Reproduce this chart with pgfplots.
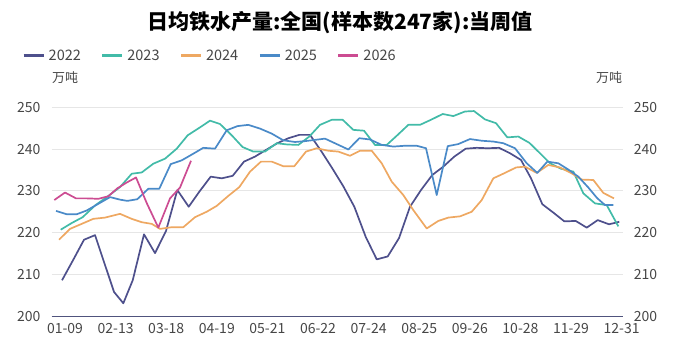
\documentclass[border=0pt]{standalone}
\usepackage{fontspec}
\setmainfont{Noto Sans CJK SC}
\usepackage{pgfplots}
\usepackage{pgfplotstable}
\pgfplotsset{compat=1.18}
\definecolor{c22}{RGB}{78,80,140}
\definecolor{c23}{RGB}{66,187,168}
\definecolor{c24}{RGB}{238,168,98}
\definecolor{c25}{RGB}{74,138,200}
\definecolor{c26}{RGB}{204,76,146}
\definecolor{tickc}{RGB}{70,70,70}
\definecolor{gridc}{RGB}{230,230,230}
\definecolor{axisc}{RGB}{80,84,125}

\pgfplotstableread{
x y
0.00 208.6
2.17 213.4
4.33 218.3
6.50 219.4
8.37 212.6
10.24 205.8
12.07 203.1
13.92 208.6
16.14 219.6
18.31 215.1
20.47 220.4
22.70 230.2
24.94 226.2
27.03 229.8
29.27 233.4
31.44 233.0
33.60 233.6
35.83 237.0
37.99 238.2
40.16 239.8
42.38 241.4
44.55 242.6
46.71 243.4
48.82 243.4
50.98 239.6
53.15 235.5
55.37 231.1
57.54 226.2
59.78 219.0
61.95 213.6
64.11 214.3
66.34 218.7
68.50 226.2
70.67 230.2
72.89 233.8
75.06 235.8
77.22 238.2
79.47 240.1
81.63 240.3
83.80 240.2
86.02 240.3
88.19 239.0
90.35 237.4
92.32 233.0
94.55 226.8
96.71 224.8
98.88 222.7
101.12 222.8
103.29 221.2
105.45 223.0
107.68 222.0
109.70 222.6
}\tabA

\pgfplotstableread{
x y
-0.26 220.7
1.91 222.3
4.07 223.7
6.50 226.5
8.80 228.5
11.42 230.9
13.72 234.1
15.69 234.4
17.97 236.5
20.28 237.7
22.58 240.1
24.74 243.3
27.17 245.2
29.13 246.8
31.10 246.0
33.41 243.3
35.53 240.5
37.66 239.4
39.96 239.4
42.26 241.4
44.35 241.1
46.52 241.0
48.68 243.0
50.79 245.8
53.09 247.0
55.26 247.0
57.34 244.6
59.45 244.4
61.61 241.0
63.92 241.0
66.08 243.4
68.17 245.8
70.47 245.8
72.78 247.1
74.94 248.4
77.03 247.9
79.33 249.0
81.10 249.1
83.27 247.1
85.43 246.2
87.66 242.8
89.82 243.0
91.99 241.5
94.09 239.0
96.06 236.6
98.23 235.3
100.65 234.6
102.62 229.4
104.92 227.0
107.22 226.6
109.51 221.5
}\tabB

\pgfplotstableread{
x y
-0.59 218.3
1.57 220.9
3.88 222.1
6.16 223.3
8.46 223.6
11.42 224.5
13.72 223.3
15.69 222.5
17.66 222.1
19.29 220.9
21.59 221.3
23.88 221.3
26.18 223.7
28.48 225.0
30.45 226.4
32.74 228.8
34.90 230.9
37.01 234.6
39.17 237.0
41.28 237.0
43.56 235.9
45.73 235.9
48.03 239.4
50.14 240.2
52.42 239.6
54.39 239.4
56.69 238.4
58.66 239.6
60.97 239.6
62.93 236.6
64.90 232.2
67.18 229.0
69.15 225.4
71.79 221.0
74.07 222.8
76.04 223.6
78.35 223.9
80.65 225.0
82.62 227.8
84.90 233.0
87.20 234.3
89.37 235.6
91.14 235.8
93.44 234.3
95.73 236.2
98.03 235.6
100.33 234.2
102.30 232.7
104.59 232.6
106.56 229.5
108.66 228.2
}\tabC

\pgfplotstableread{
x y
-1.18 225.2
0.93 224.4
2.89 224.4
4.86 225.3
7.15 226.9
9.45 228.5
11.42 227.9
12.85 227.6
14.82 228.0
16.99 230.5
19.15 230.5
21.40 236.4
23.56 237.3
25.85 238.9
27.81 240.3
30.12 240.1
32.42 244.5
34.55 245.5
36.67 245.8
38.98 244.9
41.28 243.7
43.56 242.1
45.87 241.7
47.83 241.9
49.80 242.2
51.77 242.5
54.07 241.2
56.36 239.9
58.52 242.6
60.63 242.3
62.93 241.0
65.22 240.6
67.52 240.8
69.82 240.8
71.65 240.2
73.76 229.0
75.93 240.7
78.01 241.2
80.31 242.4
82.62 242.0
84.90 241.8
86.87 241.4
89.17 240.2
91.48 236.6
93.56 234.3
95.53 237.0
97.70 236.6
99.67 235.1
101.63 233.4
103.60 230.8
105.31 228.3
106.89 226.6
108.52 226.6
}\tabD

\pgfplotstableread{
x y
-1.52 227.8
0.59 229.6
2.76 228.2
4.86 228.2
7.15 228.1
9.11 228.7
10.89 230.6
12.74 232.0
14.57 233.2
16.67 227.1
18.96 221.2
21.26 228.2
23.23 230.8
25.39 237.2
}\tabE

\begin{document}
\begin{tikzpicture}
\useasboundingbox (0pt,0pt) rectangle (680pt,350pt);
\node[font=\fontsize{21}{24}\selectfont\bfseries, text=black] at (340pt,327pt) {日均铁水产量:全国(样本数247家):当周值};
\node[font=\fontsize{13}{15}\selectfont, text=tickc] at (65pt,272pt) {万吨};
\node[font=\fontsize{13}{15}\selectfont, text=tickc] at (609pt,272pt) {万吨};
\begin{axis}[
  at={(51.7pt,33.8pt)}, anchor=south west,
  scale only axis, width=571pt, height=208.9pt,
  xmin=-2.03, xmax=110.37, ymin=200, ymax=250,
  axis lines*=left,
  x axis line style={axisc, line width=1pt, -},
  y axis line style={draw=none},
  major tick length=0pt,
  ytick={200,210,220,230,240,250},
  ymajorgrids, grid style={gridc, line width=0.8pt},
  xtick={0.59,10.55,20.51,30.47,40.43,50.40,60.36,70.32,80.28,90.24,100.20,110.16},
  xticklabels={01-09,02-13,03-18,04-19,05-21,06-22,07-24,08-25,09-26,10-28,11-29,12-31},
  /pgf/number format/assume math mode=true,
  ticklabel style={font=\fontsize{14}{16}\selectfont, text=tickc, inner sep=0pt},
  yticklabel style={anchor=east, xshift=-11pt},
  xticklabel style={anchor=north, yshift=-7pt},
  legend columns=5,
  legend style={at={(-0.052,1.2456)}, anchor=west, draw=none, fill=none,
    inner sep=0pt, column sep=3.5pt,
    font=\fontsize{14.5}{16}\selectfont, text=tickc,
    nodes={inner sep=0pt},
    /tikz/every even column/.append style={column sep=20pt}},
  legend image code/.code={\draw[#1, line width=3pt] (0pt,0pt) -- (20pt,0pt);},
  every axis plot/.append style={line width=1.7pt, line join=round},
]
\addplot[c22, mark=none] table[x=x,y=y] {\tabA};
\addlegendentry{2022}
\addplot[c23, mark=none] table[x=x,y=y] {\tabB};
\addlegendentry{2023}
\addplot[c24, mark=none] table[x=x,y=y] {\tabC};
\addlegendentry{2024}
\addplot[c25, mark=none] table[x=x,y=y] {\tabD};
\addlegendentry{2025}
\addplot[c26, mark=none] table[x=x,y=y] {\tabE};
\addlegendentry{2026}
\end{axis}
\begin{axis}[
  at={(51.7pt,33.8pt)}, anchor=south west,
  scale only axis, width=571pt, height=208.9pt,
  xmin=-2.03, xmax=110.37, ymin=200, ymax=250,
  axis y line*=right, axis x line=none,
  y axis line style={draw=none},
  major tick length=0pt,
  ytick={200,210,220,230,240,250},
  /pgf/number format/assume math mode=true,
  yticklabel style={font=\fontsize{14}{16}\selectfont, text=tickc, inner sep=0pt, anchor=west, xshift=11pt},
]
\addplot[draw=none, forget plot] coordinates {(0,200)};
\end{axis}
\end{tikzpicture}
\end{document}
